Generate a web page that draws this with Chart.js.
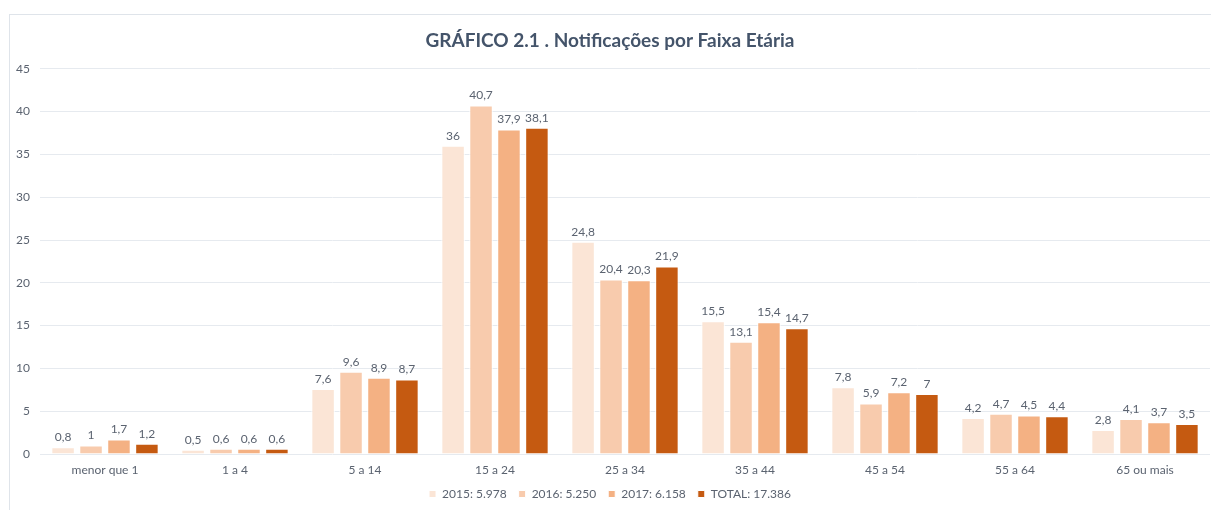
<!DOCTYPE html>
<html>
<head>
<meta charset="utf-8">
<script src="https://cdn.jsdelivr.net/npm/chart.js@4.4.1/dist/chart.umd.min.js"></script>
<style>
  html, body { margin: 0; padding: 0; background: #fff; }
  #frame { position: absolute; left: 9px; top: 14px; width: 1230px; height: 520px; border: 1px solid #dfe4ea; }
  #wrap { position: absolute; left: 0; top: 0; width: 1211px; height: 510px; }
</style>
</head>
<body>
<div id="frame"></div>
<div id="wrap"><canvas id="FaixaChart"></canvas></div>
<script>
  // categories
  const faixas = [
    'menor que 1',
    '1 a 4',
    '5 a 14',
    '15 a 24',
    '25 a 34',
    '35 a 44',
    '45 a 54',
    '55 a 64',
    '65 ou mais'
  ];

  // series (%)
  const ano2015 = [0.8, 0.5, 7.6, 36, 24.8, 15.5, 7.8, 4.2, 2.8];
  const ano2016 = [1, 0.6, 9.6, 40.7, 20.4, 13.1, 5.9, 4.7, 4.1];
  const ano2017 = [1.7, 0.6, 8.9, 37.9, 20.3, 15.4, 7.2, 4.5, 3.7];
  const total = [1.2, 0.6, 8.7, 38.1, 21.9, 14.7, 7, 4.4, 3.5];

  const serieLabels = ['2015: 5.978', '2016: 5.250', '2017: 6.158', 'TOTAL: 17.386'];
  const cores = ['#fbe5d6', '#f8cbad', '#f4b183', '#c55a11'];

  const textColor = '#5b6370';
  const fonte = 'Lato, "Open Sans", sans-serif';

  // value labels above bars
  const valueLabels = {
    id: 'valueLabels',
    afterDatasetsDraw(chart) {
      const ctx = chart.ctx;
      ctx.save();
      ctx.font = '12px ' + fonte;
      ctx.fillStyle = textColor;
      ctx.textAlign = 'center';
      ctx.textBaseline = 'bottom';
      chart.data.datasets.forEach((ds, i) => {
        chart.getDatasetMeta(i).data.forEach((bar, j) => {
          const txt = String(ds.data[j]).replace('.', ',');
          ctx.fillText(txt, bar.x, bar.y - 4);
        });
      });
      ctx.restore();
    }
  };

  const FaixaData = {
    labels: faixas,
    datasets: [ano2015, ano2016, ano2017, total].map((d, i) => ({
      label: serieLabels[i],
      data: d,
      backgroundColor: cores[i],
      borderColor: '#ffffff',
      borderWidth: 1,
      barPercentage: 0.84,
      categoryPercentage: 0.86
    }))
  };

  const FaixaConfig = {
    type: 'bar',
    data: FaixaData,
    plugins: [valueLabels],
    options: {
      responsive: true,
      maintainAspectRatio: false,
      animation: false,
      layout: { padding: { left: 10, right: 1, top: 29, bottom: 0 } },
      plugins: {
        title: {
          display: true,
          text: 'GRÁFICO 2.1 . Notificações por Faixa Etária',
          color: '#44546a',
          font: { family: fonte, size: 19, weight: 'bold' },
          padding: { top: 0, bottom: 17 }
        },
        legend: {
          position: 'bottom',
          labels: {
            color: textColor,
            font: { family: fonte, size: 12 },
            boxWidth: 7,
            boxHeight: 7,
            padding: 12
          }
        },
        tooltip: { enabled: false }
      },
      scales: {
        x: {
          grid: { display: false },
          border: { display: false },
          ticks: { color: textColor, font: { family: fonte, size: 12 }, padding: 1 },
          afterFit(scale) { scale.height = 22; }
        },
        y: {
          min: 0,
          max: 45,
          ticks: { stepSize: 5, color: textColor, font: { family: fonte, size: 12 }, padding: 10 },
          grid: { color: '#e6eaef', drawTicks: false },
          border: { display: false },
          afterFit(scale) { scale.width = 30; }
        }
      }
    }
  };

  const FaixaChart = new Chart(
    document.getElementById('FaixaChart'),
    FaixaConfig
  );
</script>
</body>
</html>
